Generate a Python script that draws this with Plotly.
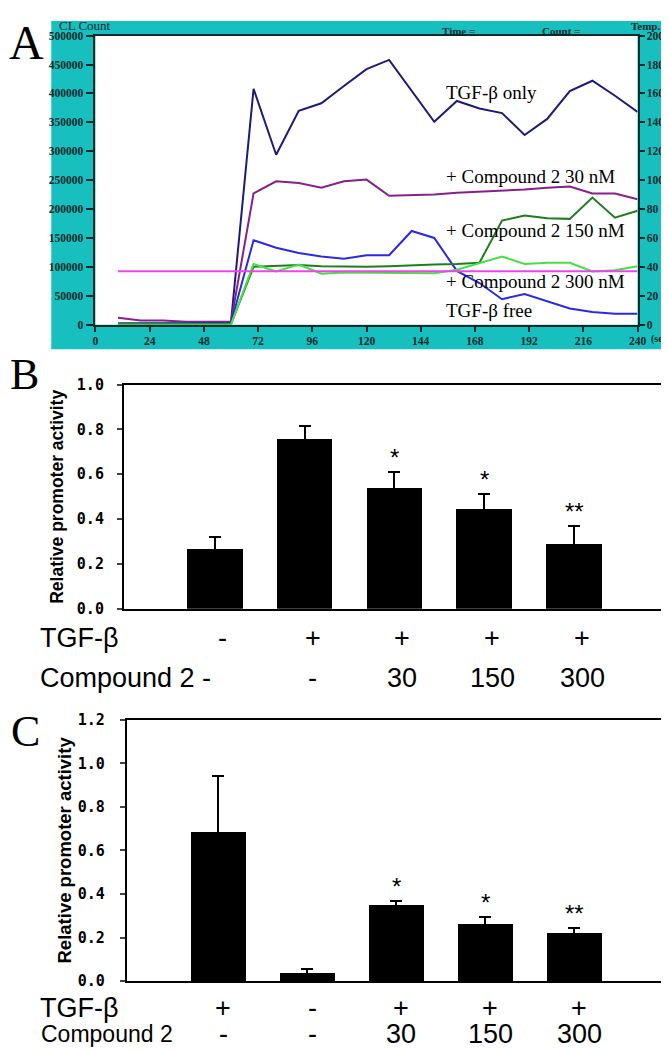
import plotly.graph_objects as go

W, H = 669, 1050
def px(x): return x / W
def py(y): return 1 - y / H

# ---------------- Panel A data (time in s, CL count) ----------------
time_s = [10, 20, 30, 40, 50, 60, 70, 80, 90, 100, 110, 120,
          130, 140, 150, 160, 170, 180, 190, 200, 210, 220, 230, 240]
tgf_only = [2000, 2000, 2000, 2000, 4000, 4000, 408000, 294000, 370000, 383000, 413000, 442000,
            458000, 405000, 351000, 387000, 374000, 366000, 328000, 356000, 404000, 422000, 396000, 368000]
cmp_30 = [12000, 7000, 7000, 5000, 5000, 5000, 227000, 248000, 245000, 237000, 248000, 251000,
          223000, 224000, 225000, 228000, 230000, 231000, 234000, 237000, 239000, 227000, 227000, 217000]
tgf_free = [2000, 2000, 2000, 2000, 3000, 3000, 146000, 133000, 124000, 118000, 114000, 120000,
            120000, 162000, 150000, 93000, 72000, 44000, 53000, 40000, 28000, 22000, 19000, 19000]
cmp_150 = [1000, 1000, 1000, 1000, 1000, 1000, 100000, 102000, 103000, 101000, 100000, 100000,
           101000, 103000, 104000, 105000, 107000, 180000, 189000, 184000, 183000, 220000, 185000, 197000]
cmp_300 = [0, 0, 0, 0, 0, 0, 105000, 92000, 104000, 88000, 90000, 90000,
           89000, 89000, 89000, 95000, 106000, 118000, 105000, 107000, 107000, 92000, 94000, 101000]
temp_time = [10, 240]
temp_c = [37, 37]

a_xticks = [0, 24, 48, 72, 96, 120, 144, 168, 192, 216, 240]
a_labels = ["TGF-β only", "+ Compound 2 30 nM", "+ Compound 2 150 nM",
            "+ Compound 2 300 nM", "TGF-β free"]

# ---------------- Panel B / C data ----------------
tgf_row_b = ["-", "+", "+", "+", "+"]
cmp_row_b = ["", "-", "30", "150", "300"]
mean_b = [0.269, 0.759, 0.539, 0.446, 0.291]
err_b = [0.051, 0.057, 0.069, 0.064, 0.080]
stars_b = ["", "", "*", "*", "**"]

tgf_row_c = ["+", "-", "+", "+", "+"]
cmp_row_c = ["-", "-", "30", "150", "300"]
mean_c = [0.684, 0.037, 0.350, 0.265, 0.222]
err_c = [0.260, 0.018, 0.020, 0.031, 0.020]
stars_c = ["", "", "*", "*", "**"]

cats = list(range(5))

fig = go.Figure()

# Panel A lines
line_specs = [
    (tgf_only, "#1c1c78", "TGF-β only"),
    (cmp_30, "#86208a", "Compound 2 30 nM"),
    (tgf_free, "#2a2ae6", "TGF-β free"),
    (cmp_150, "#1e7e1e", "Compound 2 150 nM"),
    (cmp_300, "#44e044", "Compound 2 300 nM"),
]
for ys, col, nm in line_specs:
    fig.add_trace(go.Scatter(x=time_s, y=ys, mode="lines", name=nm,
                             line=dict(color=col, width=2), xaxis="x", yaxis="y"))
fig.add_trace(go.Scatter(x=temp_time, y=temp_c, mode="lines", name="Temp",
                         line=dict(color="#ee44ee", width=2), xaxis="x", yaxis="y2"))

# Panel B bars
fig.add_trace(go.Bar(x=cats, y=mean_b, width=0.62, marker=dict(color="black", line=dict(width=0)),
                     error_y=dict(type="data", array=err_b, color="black", thickness=2, width=6),
                     xaxis="x2", yaxis="y3"))
# Panel C bars
fig.add_trace(go.Bar(x=cats, y=mean_c, width=0.62, marker=dict(color="black", line=dict(width=0)),
                     error_y=dict(type="data", array=err_c, color="black", thickness=2, width=6),
                     xaxis="x3", yaxis="y4"))

teal = "#17bfbf"
dark = "#0c2a2a"
tickf_a = dict(family="Liberation Serif", size=11.5, color=dark, weight="bold")

shapes = [
    dict(type="rect", xref="paper", yref="paper", x0=px(41), x1=1, y0=py(338), y1=py(4),
         fillcolor=teal, line=dict(width=0), layer="below"),
    dict(type="rect", xref="paper", yref="paper", x0=px(86), x1=px(638), y0=py(313), y1=py(19),
         fillcolor="white", line=dict(width=0), layer="below"),
]

annotations = []
def ann(text, x, y, size, family="Liberation Sans", xanchor="left", yanchor="middle",
        color="black", weight="normal", **kw):
    annotations.append(dict(text=text, x=x, y=y, xref="paper", yref="paper", showarrow=False,
                            xanchor=xanchor, yanchor=yanchor, borderpad=0,
                            font=dict(family=family, size=size, color=color, weight=weight), **kw))

# panel letters
ann("A", px(-3), py(26), 48, family="Liberation Serif")
ann("B", px(-2), py(364), 44, family="Liberation Serif")
ann("C", px(-1), py(727), 44, family="Liberation Serif")

# Panel A header texts
ann("CL Count", px(48), py(9), 13, family="Liberation Serif", color=dark)
ann("Time =", px(438), py(14), 11, family="Liberation Serif", color=dark, weight="bold")
ann("Count =", px(540), py(14), 11, family="Liberation Serif", color=dark, weight="bold")
ann("Temp.", px(630), py(9), 11, family="Liberation Serif", color=dark, weight="bold")
ann("(sec)", px(651), py(328), 10, family="Liberation Serif", color=dark, weight="bold")

# Panel A curve labels
a_label_y = [77, 162, 217, 269, 299]
for t, yy in zip(a_labels, a_label_y):
    ann(t, px(442), py(yy), 19, family="Liberation Serif")

# Panel B / C y titles
ann("Relative promoter activity", px(46), py(488), 17.5, xanchor="center", weight="bold", textangle=-90)
ann("Relative promoter activity", px(54), py(848), 18.5, xanchor="center", weight="bold", textangle=-90)

# Panel B category rows
ann("TGF-β", px(29), py(632), 27)
ann("Compound 2 -", px(29), py(673), 27)
for i in cats:
    annotations.append(dict(text=tgf_row_b[i], x=i, y=py(632), xref="x2", yref="paper", xshift=8,
                            showarrow=False, yanchor="middle",
                            font=dict(family="Liberation Sans", size=27, color="black")))
    if cmp_row_b[i]:
        annotations.append(dict(text=cmp_row_b[i], x=i, y=py(673), xref="x2", yref="paper", xshift=8,
                                showarrow=False, yanchor="middle",
                                font=dict(family="Liberation Sans", size=27, color="black")))
    if stars_b[i]:
        annotations.append(dict(text=stars_b[i], x=i, y=mean_b[i] + err_b[i], xref="x2", yref="y3",
                                showarrow=False, yanchor="bottom", yshift=-1,
                                font=dict(family="Liberation Sans", size=24, color="black")))

# Panel C category rows
ann("TGF-β", px(29), py(1008), 27)
ann("Compound 2", px(30), py(1035), 23)
for i in cats:
    annotations.append(dict(text=tgf_row_c[i], x=i, y=py(1008), xref="x3", yref="paper", xshift=5,
                            showarrow=False, yanchor="middle",
                            font=dict(family="Liberation Sans", size=27, color="black")))
    annotations.append(dict(text=cmp_row_c[i], x=i, y=py(1035), xref="x3", yref="paper", xshift=5,
                            showarrow=False, yanchor="middle",
                            font=dict(family="Liberation Sans", size=27, color="black")))
    if stars_c[i]:
        annotations.append(dict(text=stars_c[i], x=i, y=mean_c[i] + err_c[i], xref="x3", yref="y4",
                                showarrow=False, yanchor="bottom", yshift=-1,
                                font=dict(family="Liberation Sans", size=24, color="black")))

tickf_bc = dict(family="DejaVu Sans Mono", size=15, color="black", weight="bold")

fig.update_layout(
    width=W, height=H, margin=dict(l=0, r=0, t=0, b=0),
    paper_bgcolor="white", plot_bgcolor="rgba(0,0,0,0)", showlegend=False,
    shapes=shapes, annotations=annotations, bargap=0,
    xaxis=dict(domain=[px(86), px(638)], range=[0, 240], tickvals=a_xticks, ticks="outside",
               ticklen=5, tickwidth=2, tickcolor=dark, showline=True, linecolor=dark, linewidth=2,
               mirror=True, showgrid=False, zeroline=False, tickfont=tickf_a, anchor="y"),
    yaxis=dict(domain=[py(313), py(19)], range=[0, 500000], dtick=50000, tickformat="d",
               ticks="outside", ticklen=7, tickwidth=2, tickcolor=dark, showline=True,
               linecolor=dark, linewidth=2, showgrid=False, zeroline=False, tickfont=tickf_a,
               ticklabelstandoff=1, anchor="x"),
    yaxis2=dict(overlaying="y", side="right", range=[0, 200], dtick=20, ticks="outside",
                ticklen=5, tickwidth=2, tickcolor=dark, showline=True, linecolor=dark, linewidth=2,
                showgrid=False, zeroline=False, tickfont=tickf_a, anchor="x"),
    xaxis2=dict(domain=[px(115), px(664)], range=[-1.01, 4.99], showticklabels=False, ticks="",
                showline=True, linecolor="black", linewidth=2, mirror=True, showgrid=False,
                zeroline=False, anchor="y3"),
    yaxis3=dict(domain=[py(602), py(374)], range=[0, 1.0], dtick=0.2, tickformat=".1f",
                ticks="outside", ticklen=5, tickwidth=2, showline=True, linecolor="black",
                linewidth=2, mirror=True, showgrid=False, zeroline=False, tickfont=tickf_bc,
                ticklabelstandoff=10, anchor="x2"),
    xaxis3=dict(domain=[px(118), px(664)], range=[-1.03, 5.0], showticklabels=False, ticks="",
                showline=True, linecolor="black", linewidth=2, mirror=True, showgrid=False,
                zeroline=False, anchor="y4"),
    yaxis4=dict(domain=[py(981), py(715)], range=[0, 1.2], dtick=0.2, tickformat=".1f",
                ticks="outside", ticklen=5, tickwidth=2, showline=True, linecolor="black",
                linewidth=2, mirror=True, showgrid=False, zeroline=False, tickfont=tickf_bc,
                ticklabelstandoff=12, anchor="x3"),
)

fig.write_html("out.html")
